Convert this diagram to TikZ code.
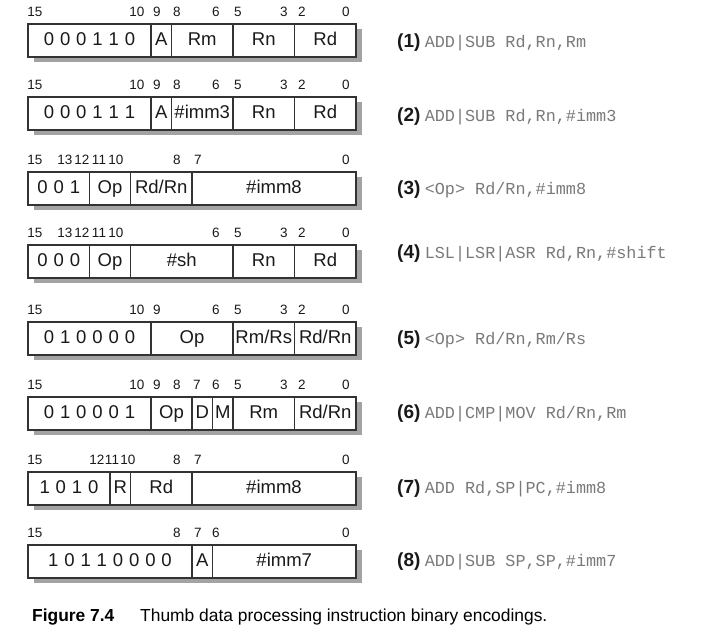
\documentclass[tikz,border=0pt]{standalone}
\usepackage{fontspec}
\setmainfont{Liberation Sans}
\newfontfamily\monof{Liberation Mono}
\definecolor{boxc}{gray}{0.2}
\definecolor{txtc}{gray}{0.1}
\definecolor{asmc}{gray}{0.48}
\definecolor{shadowc}{gray}{0.64}
\newcommand\dgap{\hspace{5.9pt}}
\newcommand\fld[5]{\node[fld, minimum width={#4*20.5pt}] (#1) at ({28+#3*20.5},#2) {#5};}
\newcommand\shrow[2]{\fill[shadowc] (34,#2+5) rectangle (362,#2+38); \coordinate (#1) at (28,#2);}
\newcommand\bitrow[3]{\foreach \xx/\ll in {#3} {\node[bitl] (#1-\ll) at (\xx,#2) {\ll};}}
\begin{document}
\begin{tikzpicture}[x=1pt,y=-1pt,
  fld/.style={draw=boxc, line width=1.5pt, fill=white, inner sep=0pt, outer sep=0pt,
    minimum height=33pt, anchor=north west, font=\fontsize{18.5}{20}\selectfont, text=txtc,
    text height=13pt, text depth=3pt},
  bitl/.style={font=\fontsize{13.5}{15}\selectfont, text=txtc, inner sep=0pt},
  num/.style={anchor=west, inner sep=0pt, font=\fontsize{19}{20}\selectfont\bfseries, text=txtc},
  asm/.style={anchor=west, inner sep=0pt, font=\monof\fontsize{16.8}{20}\selectfont, text=asmc},
  capb/.style={anchor=west, inner sep=0pt, font=\fontsize{17.4}{19}\selectfont\bfseries, text=black},
  capn/.style={anchor=west, inner sep=0pt, font=\fontsize{17.4}{19}\selectfont, text=black},
]
\fill[white] (0,0) rectangle (724,634);
\useasboundingbox (0,0) rectangle (724,634);

% ---------- row 1
\shrow{s1}{24}
\bitrow{b1}{12}{35/15,137/10,157/9,177/8,216/6,238/5,284/3,302/2,346/0}
\fld{r1a}{24}{0}{6}{0\dgap0\dgap0\dgap1\dgap1\dgap0}
\fld{r1b}{24}{6}{1}{A}
\fld{r1c}{24}{7}{3}{Rm}
\fld{r1d}{24}{10}{3}{Rn}
\fld{r1e}{24}{13}{3}{Rd}
% ---------- row 2
\shrow{s2}{97}
\bitrow{b2}{85}{35/15,137/10,157/9,177/8,216/6,238/5,284/3,302/2,346/0}
\fld{r2a}{97}{0}{6}{0\dgap0\dgap0\dgap1\dgap1\dgap1}
\fld{r2b}{97}{6}{1}{A}
\fld{r2c}{97}{7}{3}{\#imm3}
\fld{r2d}{97}{10}{3}{Rn}
\fld{r2e}{97}{13}{3}{Rd}
% ---------- row 3
\shrow{s3}{172}
\bitrow{b3}{160}{35/15,65/13,82/12,99/11,116/10,177/8,198/7,346/0}
\fld{r3a}{172}{0}{3}{0\dgap0\dgap1}
\fld{r3b}{172}{3}{2}{Op}
\fld{r3c}{172}{5}{3}{Rd/Rn}
\fld{r3d}{172}{8}{8}{\#imm8}
% ---------- row 4
\shrow{s4}{245}
\bitrow{b4}{233}{35/15,65/13,82/12,99/11,116/10,216/6,238/5,284/3,302/2,346/0}
\fld{r4a}{245}{0}{3}{0\dgap0\dgap0}
\fld{r4b}{245}{3}{2}{Op}
\fld{r4c}{245}{5}{5}{\#sh}
\fld{r4d}{245}{10}{3}{Rn}
\fld{r4e}{245}{13}{3}{Rd}
% ---------- row 5
\shrow{s5}{322}
\bitrow{b5}{310}{35/15,137/10,157/9,216/6,238/5,284/3,302/2,346/0}
\fld{r5a}{322}{0}{6}{0\dgap1\dgap0\dgap0\dgap0\dgap0}
\fld{r5b}{322}{6}{4}{Op}
\fld{r5c}{322}{10}{3}{Rm/Rs}
\fld{r5d}{322}{13}{3}{Rd/Rn}
% ---------- row 6
\shrow{s6}{397}
\bitrow{b6}{385}{35/15,137/10,157/9,177/8,197/7,216/6,238/5,284/3,302/2,346/0}
\fld{r6a}{397}{0}{6}{0\dgap1\dgap0\dgap0\dgap0\dgap1}
\fld{r6b}{397}{6}{2}{Op}
\fld{r6c}{397}{8}{1}{D}
\fld{r6d}{397}{9}{1}{M}
\fld{r6e}{397}{10}{3}{Rm}
\fld{r6f}{397}{13}{3}{Rd/Rn}
% ---------- row 7
\shrow{s7}{472}
\bitrow{b7}{460}{35/15,97/12,112/11,128/10,177/8,198/7,346/0}
\fld{r7a}{472}{0}{4}{1\dgap0\dgap1\dgap0}
\fld{r7b}{472}{4}{1}{R}
\fld{r7c}{472}{5}{3}{Rd}
\fld{r7d}{472}{8}{8}{\#imm8}
% ---------- row 8
\shrow{s8}{545}
\bitrow{b8}{533}{35/15,177/8,198/7,216/6,346/0}
\fld{r8a}{545}{0}{8}{1\dgap0\dgap1\dgap1\dgap0\dgap0\dgap0\dgap0}
\fld{r8b}{545}{8}{1}{A}
\fld{r8c}{545}{9}{7}{\#imm7}

% ---------- assembler forms
\node[num] (n1) at (397,43) {(1)};
\node[asm] (a1) at ([xshift=4pt]n1.east) {ADD|SUB Rd,Rn,Rm};
\node[num] (n2) at (397,117) {(2)};
\node[asm] (a2) at ([xshift=4pt]n2.east) {ADD|SUB Rd,Rn,\#imm3};
\node[num] (n3) at (397,190) {(3)};
\node[asm] (a3) at ([xshift=4pt]n3.east) {<Op> Rd/Rn,\#imm8};
\node[num] (n4) at (397,254) {(4)};
\node[asm] (a4) at ([xshift=4pt]n4.east) {LSL|LSR|ASR Rd,Rn,\#shift};
\node[num] (n5) at (397,340) {(5)};
\node[asm] (a5) at ([xshift=4pt]n5.east) {<Op> Rd/Rn,Rm/Rs};
\node[num] (n6) at (397,414) {(6)};
\node[asm] (a6) at ([xshift=4pt]n6.east) {ADD|CMP|MOV Rd/Rn,Rm};
\node[num] (n7) at (397,489) {(7)};
\node[asm] (a7) at ([xshift=4pt]n7.east) {ADD Rd,SP|PC,\#imm8};
\node[num] (n8) at (397,562) {(8)};
\node[asm] (a8) at ([xshift=4pt]n8.east) {ADD|SUB SP,SP,\#imm7};

% ---------- caption
\node[capb] (cap1) at (32,617) {Figure 7.4};
\node[capn] (cap2) at (140,617) {Thumb data processing instruction binary encodings.};
\end{tikzpicture}
\end{document}
